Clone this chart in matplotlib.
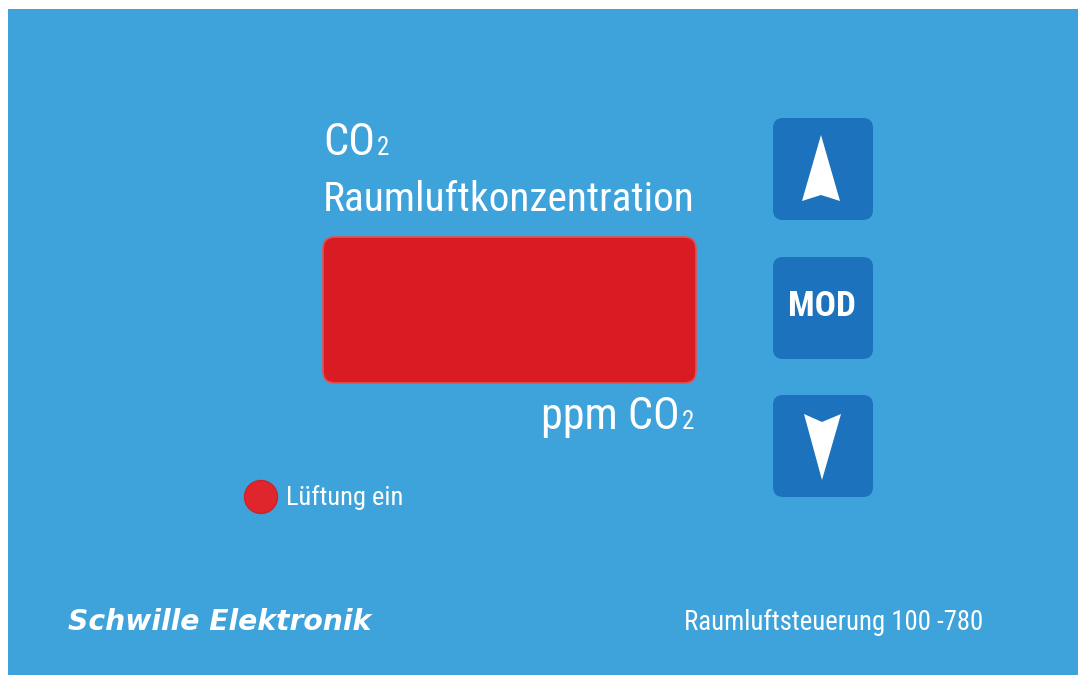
import matplotlib.pyplot as plt
from matplotlib.patches import FancyBboxPatch, Circle, Polygon, Rectangle

# panel texts
heading = ["CO", "Raumluftkonzentration"]
unit_label = "ppm CO"
sub2 = "2"
button_labels = ["up", "MOD", "down"]
led_label = "Lüftung ein"
brand = "Schwille Elektronik"
model = "Raumluftsteuerung 100 -780"

panel_blue = "#3fa3db"
button_blue = "#1c72bc"
display_red = "#d91b24"
narrow = ["Roboto Condensed", "DejaVu Sans"]

fig = plt.figure(figsize=(10.78, 6.75), dpi=100)
ax = fig.add_axes([0, 0, 1, 1])
ax.set_xlim(0, 1078)
ax.set_ylim(675, 0)
ax.axis("off")
renderer = fig.canvas.get_renderer()


def extent(t):
    bb = t.get_window_extent(renderer)
    return bb.x0, bb.x1


def fit(t, width):
    # scale the font so that the text covers the width seen in the reference
    x0, x1 = extent(t)
    t.set_fontsize(t.get_fontsize() * width / (x1 - x0))
    return t


# panel background
ax.add_patch(Rectangle((8, 9), 1070, 666, color=panel_blue, lw=0))

# heading
co = fit(ax.text(323, 155, heading[0], color="white", fontsize=29, family=narrow,
                 va="baseline"), 52)
ax.text(extent(co)[1] + 2, 155, sub2, color="white", fontsize=18, family=narrow, va="baseline")
fit(ax.text(323, 211, heading[1], color="white", fontsize=29, family=narrow, va="baseline"), 372)

# red display
ax.add_patch(FancyBboxPatch((335, 249), 349, 122, boxstyle="round,pad=12",
                            fc=display_red, ec="#e4504f", lw=1.2))

# unit, right aligned to the display
two = ax.text(694, 429, sub2, color="white", fontsize=18, family=narrow,
              va="baseline", ha="right")
unit = ax.text(extent(two)[0] - 2, 429, unit_label, color="white", fontsize=29,
               family=narrow, va="baseline", ha="right")
fit(unit, 139)

# buttons
tops = [118, 257, 395]
for top, lab in zip(tops, button_labels):
    ax.add_patch(FancyBboxPatch((783, top + 10), 80, 82, boxstyle="round,pad=10",
                                fc=button_blue, ec="none"))
    if lab == "up":
        ax.add_patch(Polygon([(821, top + 17), (840, top + 83), (821, top + 77), (802, top + 83)],
                             closed=True, fc="white", ec="none"))
    elif lab == "down":
        ax.add_patch(Polygon([(822, top + 85), (841, top + 19), (822, top + 27), (804, top + 19)],
                             closed=True, fc="white", ec="none"))
    else:
        fit(ax.text(822, top + 50, lab, color="white", fontsize=24, fontweight="bold",
                    family=narrow, ha="center", va="center"), 68)

# LED
ax.add_patch(Circle((261, 497), 16.5, fc="#e0262c", ec="#c8242a", lw=1))
fit(ax.text(286, 505, led_label, color="white", fontsize=20, family=narrow, va="baseline"), 117)

# footer
fit(ax.text(68, 630, brand, color="white", fontsize=18, fontweight="bold", style="oblique",
            family=["DejaVu Sans"], va="baseline"), 305)
fit(ax.text(684, 630, model, color="white", fontsize=18, family=narrow, va="baseline"), 299)

fig.savefig("out.png", dpi=100, facecolor="white")
